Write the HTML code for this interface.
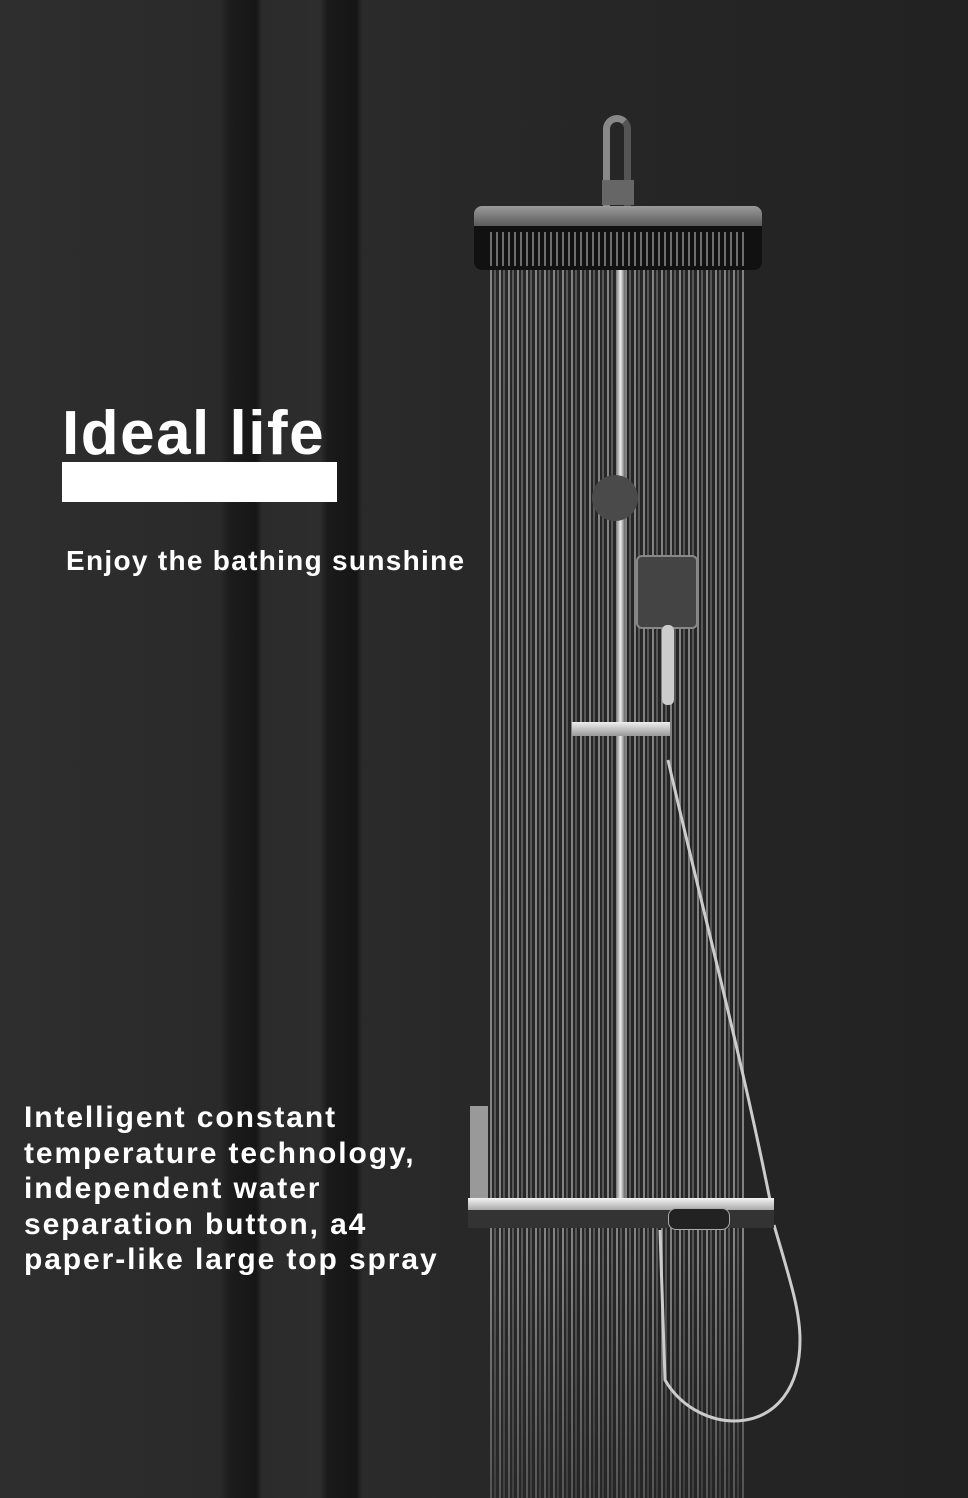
<!DOCTYPE html>
<html><head><meta charset="utf-8"><style>
body{margin:0;width:968px;height:1498px;overflow:hidden;background:#272727;position:relative;font-family:"Liberation Sans","DejaVu Sans",sans-serif;font-weight:bold;color:#fff}
div{position:absolute}
.bg{left:0;top:0;width:968px;height:1498px;background:linear-gradient(90deg,#2e2e2e 0,#2a2a2a 220px,#1c1c1c 230px,#161616 256px,#2b2b2b 262px,#2d2d2d 320px,#1a1a1a 328px,#151515 356px,#2a2a2a 362px,#262626 600px,#222 968px)}
.rain{left:490px;top:265px;width:256px;height:1233px;opacity:.85;
background:repeating-linear-gradient(90deg,rgba(220,220,220,.6) 0,rgba(220,220,220,.6) 2px,transparent 2px,transparent 4px,rgba(170,170,170,.45) 4px,rgba(170,170,170,.45) 6px,transparent 6px,transparent 9px);
-webkit-mask:linear-gradient(180deg,#000 0,#000 80%,rgba(0,0,0,.5) 100%)}
</style></head><body>
<div class="bg"></div>
<div class="rain"></div>
<div style="left:603px;top:115px;width:14px;height:90px;border:7px solid #888;border-bottom:none;border-radius:14px 14px 0 0;border-right-color:#555"></div>
<div style="left:602px;top:180px;width:32px;height:25px;background:#666"></div>
<div style="left:474px;top:206px;width:288px;height:22px;background:linear-gradient(#9a9a9a,#555);border-radius:8px 8px 0 0"></div>
<div style="left:474px;top:226px;width:288px;height:44px;background:#111;border-radius:0 0 8px 8px"></div>
<div style="left:490px;top:232px;width:256px;height:34px;background:repeating-linear-gradient(90deg,#ccc 0,#ccc 2px,transparent 2px,transparent 6px);opacity:.5"></div>
<div style="left:616px;top:270px;width:9px;height:940px;background:linear-gradient(90deg,#777,#eee,#666)"></div>
<div style="left:592px;top:475px;width:46px;height:46px;border-radius:50%;background:#4a4a4a"></div>
<div style="left:636px;top:555px;width:58px;height:70px;background:#444;border-radius:6px;border:2px solid #888"></div>
<div style="left:662px;top:625px;width:12px;height:80px;background:#ccc;border-radius:5px"></div>
<div style="left:572px;top:722px;width:98px;height:14px;background:linear-gradient(#eee,#999)"></div>
<svg style="position:absolute;left:0;top:0" width="968" height="1498"><path d="M668 760 C700 900 740 1050 770 1200 M774 1225 C790 1280 800 1310 800 1340 C800 1440 700 1440 665 1380 L660 1230" stroke="#ccc" stroke-width="3" fill="none"/></svg>
<div style="left:468px;top:1198px;width:306px;height:12px;background:linear-gradient(#f4f4f4,#aaa)"></div>
<div style="left:468px;top:1210px;width:306px;height:18px;background:#333"></div>
<div style="left:668px;top:1208px;width:60px;height:20px;background:#222;border:1px solid #aaa;border-radius:8px"></div>
<div style="left:470px;top:1106px;width:18px;height:92px;background:#999"></div>

<div style="left:62px;top:398px;font-size:62px;line-height:72px;letter-spacing:1.5px">Ideal life</div>
<div style="left:62px;top:462px;width:275px;height:40px;background:#fff"></div>
<div style="left:66px;top:543px;font-size:28px;line-height:36px;letter-spacing:1.3px">Enjoy the bathing sunshine</div>
<div style="left:24px;top:1100px;font-size:30px;line-height:35.5px;letter-spacing:1.9px;white-space:nowrap">Intelligent constant<br>temperature technology,<br>independent water<br>separation button, a4<br>paper-like large top spray</div>
</body></html>
